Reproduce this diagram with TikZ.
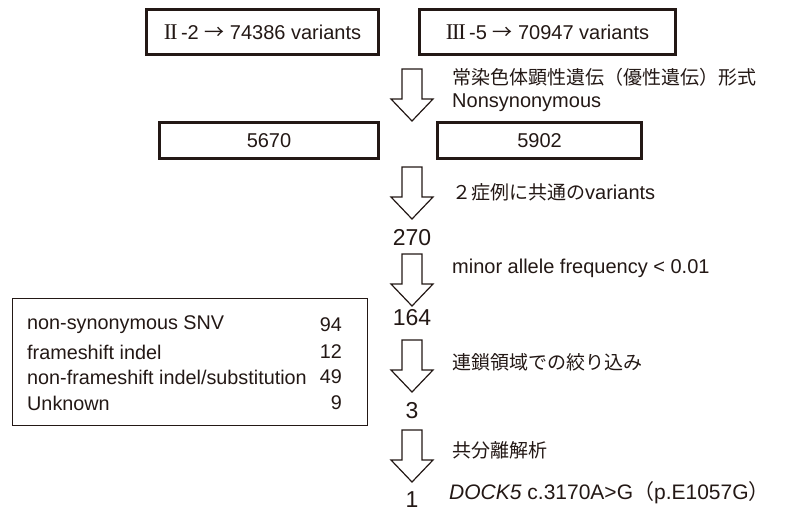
\documentclass[tikz,border=0pt]{standalone}
\usepackage{fontspec}
\setmainfont{Liberation Sans}
\newfontfamily\jp{Noto Sans CJK JP}
\newfontfamily\romnum{Liberation Serif}
\newcommand{\romII}{{\romnum\fontsize{22.5}{24}\selectfont I\kern-1.2pt I}}
\newcommand{\romIII}{{\romnum\fontsize{22.5}{24}\selectfont I\kern-1.2pt I\kern-1.2pt I}}
\definecolor{ink}{HTML}{231815}
\tikzset{
  txt/.style={inner sep=0pt, text=ink, font=\fontsize{20}{23}\selectfont},
  note/.style={txt, anchor=west},
  count/.style={txt, font=\fontsize{23}{26}\selectfont},
  heavybox/.style={draw=ink, line width=3pt, inner sep=0pt, text=ink,
                   font=\fontsize{20}{24}\selectfont},
  thinbox/.style={draw=ink, line width=1pt, inner sep=0pt},
  rowtxt/.style={inner sep=0pt, text=ink, font=\fontsize{19.8}{23}\selectfont},
  downarrow/.pic={
    \draw[draw=ink, fill=white, line width=1.2pt, line join=miter]
      (-10,0) -- (-10,30) -- (-21,30) -- (0,52) -- (21,30) -- (10,30) -- (10,0) -- cycle;
  }
}
\begin{document}
\begin{tikzpicture}[x=1pt, y=-1pt]
  \useasboundingbox (0,0) rectangle (795,512);

  % starting call sets
  \node[heavybox, minimum width=232pt, minimum height=45pt] (s1) at (262.5,32)
    {\romII\,-2 {\jp →} 74386 variants};
  \node[heavybox, minimum width=256pt, minimum height=45pt] (s2) at (547.5,32)
    {\romIII\,-5 {\jp →} 70947 variants};

  % step 1
  \pic at (412,69) {downarrow};
  \node[note, font=\fontsize{19}{22}\selectfont] (n1a) at (452,77) {\jp 常染色体顕性遺伝（優性遺伝）形式};
  \node[note] (n1b) at (452,103) {Nonsynonymous};

  \node[heavybox, minimum width=219pt, minimum height=36pt] (f1) at (269,140.5) {5670};
  \node[heavybox, minimum width=204pt, minimum height=36pt] (f2) at (539.5,140.5) {5902};

  % step 2
  \pic at (412,167) {downarrow};
  \node[note] (n2) at (452,192) {{\jp\fontsize{19}{22}\selectfont ２症例に共通の}variants};
  \node[count] (c270) at (412,238) {270};

  % step 3
  \pic at (412,254) {downarrow};
  \node[note] (n3) at (452,268) {minor allele frequency < 0.01};
  \node[count] (c164) at (412,318) {164};

  % step 4
  \pic at (412,340) {downarrow};
  \node[note, font=\fontsize{19}{22}\selectfont] (n4) at (452,362) {\jp 連鎖領域での絞り込み};
  \node[count] (c3) at (412,411) {3};

  % step 5
  \pic at (412,430) {downarrow};
  \node[note, font=\fontsize{19}{22}\selectfont] (n5) at (452,450) {\jp 共分離解析};
  \node[count] (c1) at (412,500) {1};
  \node[note, font=\fontsize{21}{24}\selectfont] (gene) at (449,493)
    {\textit{DOCK5} c.3170A>G{\jp （}p.E1057G{\jp ）}};

  % breakdown of the 164 variants
  \node[thinbox, minimum width=355pt, minimum height=127pt] (tab) at (189.5,361.5) {};
  \node[rowtxt, anchor=west] (r1) at (27,325) {non-synonymous SNV};
  \node[rowtxt, anchor=west] (r2) at (27,352) {frameshift indel};
  \node[rowtxt, anchor=west] (r3) at (27,377) {non-frameshift indel/substitution};
  \node[rowtxt, anchor=west] (r4) at (27,403) {Unknown};
  \node[rowtxt, anchor=east] (v1) at (342,325) {94};
  \node[rowtxt, anchor=east] (v2) at (342,352) {12};
  \node[rowtxt, anchor=east] (v3) at (342,377) {49};
  \node[rowtxt, anchor=east] (v4) at (342,403) {9};
\end{tikzpicture}
\end{document}
